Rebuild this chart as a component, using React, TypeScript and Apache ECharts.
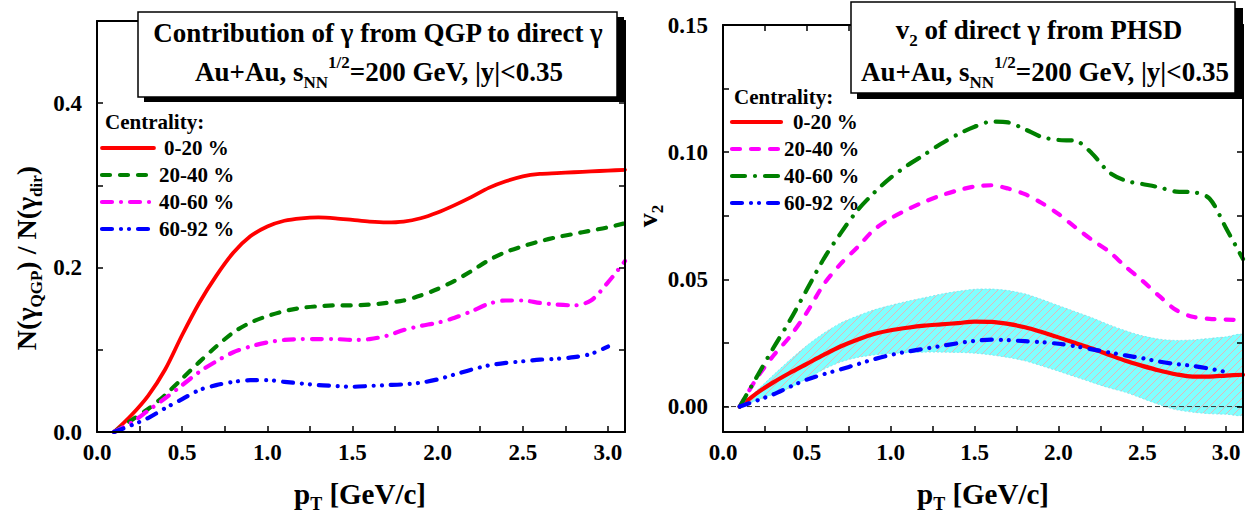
import React, { useEffect, useRef } from 'react';
import * as echarts from 'echarts';

// ---------- data ----------
const pT = [0.1, 0.2, 0.3, 0.4, 0.5, 0.6, 0.7, 0.8, 0.9, 1.0, 1.1, 1.2, 1.3, 1.4, 1.5, 1.6, 1.7, 1.8, 1.9, 2.0, 2.1, 2.2, 2.3, 2.4, 2.5, 2.6, 2.7, 2.8, 2.9, 3.0, 3.1];

const centralities = ['0-20 %', '20-40 %', '40-60 %', '60-92 %'];
const legendTitle = 'Centrality:';

// Left panel: N(gamma_QGP)/N(gamma_dir)
const ratio0020 = [0, 0.02, 0.044, 0.076, 0.118, 0.157, 0.19, 0.218, 0.238, 0.25, 0.257, 0.26, 0.261, 0.26, 0.258, 0.256, 0.255, 0.256, 0.26, 0.267, 0.276, 0.286, 0.297, 0.305, 0.311, 0.314, 0.315, 0.316, 0.317, 0.318, 0.319];
const ratio2040 = [0, 0.014, 0.028, 0.045, 0.065, 0.085, 0.104, 0.121, 0.133, 0.141, 0.147, 0.151, 0.153, 0.154, 0.154, 0.155, 0.157, 0.16, 0.166, 0.174, 0.184, 0.196, 0.209, 0.219, 0.226, 0.232, 0.237, 0.241, 0.245, 0.249, 0.254];
const ratio4060 = [0, 0.011, 0.026, 0.041, 0.057, 0.073, 0.086, 0.097, 0.104, 0.109, 0.112, 0.113, 0.113, 0.113, 0.112, 0.113, 0.117, 0.124, 0.129, 0.133, 0.139, 0.147, 0.156, 0.16, 0.16, 0.157, 0.155, 0.154, 0.16, 0.182, 0.208];
const ratio6092 = [0, 0.008, 0.017, 0.029, 0.04, 0.051, 0.057, 0.061, 0.063, 0.063, 0.061, 0.059, 0.057, 0.056, 0.055, 0.056, 0.057, 0.058, 0.06, 0.064, 0.07, 0.076, 0.081, 0.084, 0.086, 0.088, 0.089, 0.091, 0.095, 0.104, null];

// Right panel: v2 of direct photons
const v2_0020 = [0, 0.0052, 0.0095, 0.0133, 0.0168, 0.0203, 0.0236, 0.0263, 0.0285, 0.03, 0.031, 0.0318, 0.0323, 0.0328, 0.0334, 0.0333, 0.0325, 0.0312, 0.0293, 0.0272, 0.025, 0.0228, 0.0204, 0.018, 0.016, 0.0142, 0.0127, 0.0118, 0.0118, 0.0122, 0.0125];
const v2_2040 = [0, 0.011, 0.02, 0.0276, 0.037, 0.048, 0.056, 0.0625, 0.0695, 0.074, 0.0775, 0.0805, 0.083, 0.085, 0.0865, 0.087, 0.0857, 0.0835, 0.08, 0.0757, 0.0705, 0.0655, 0.061, 0.055, 0.0495, 0.0435, 0.038, 0.0353, 0.0345, 0.0342, 0.034];
const v2_4060 = [0, 0.0115, 0.023, 0.034, 0.046, 0.058, 0.068, 0.077, 0.084, 0.09, 0.0948, 0.099, 0.1033, 0.107, 0.11, 0.112, 0.1117, 0.109, 0.106, 0.1048, 0.1045, 0.0995, 0.0922, 0.0888, 0.0875, 0.0862, 0.0845, 0.0843, 0.0818, 0.07, 0.058];
const v2_6092 = [0, 0.0023, 0.0048, 0.0078, 0.0106, 0.0127, 0.0146, 0.0166, 0.0186, 0.0203, 0.0216, 0.0227, 0.0238, 0.0249, 0.0258, 0.0263, 0.0261, 0.0257, 0.0253, 0.0247, 0.0237, 0.0225, 0.0213, 0.0201, 0.019, 0.0177, 0.0167, 0.016, 0.0149, 0.0136, null];
const v2BandUpper = [0, 0.0062, 0.0124, 0.0184, 0.024, 0.0288, 0.0328, 0.0356, 0.038, 0.0398, 0.0414, 0.0428, 0.0442, 0.0453, 0.0461, 0.0462, 0.0456, 0.0443, 0.0421, 0.0397, 0.0373, 0.0349, 0.0322, 0.0298, 0.0278, 0.0265, 0.026, 0.0262, 0.0268, 0.0274, 0.028];
const v2BandLower = [0, 0.0024, 0.0048, 0.0073, 0.011, 0.0146, 0.0175, 0.0193, 0.0203, 0.0209, 0.0212, 0.0214, 0.0214, 0.0213, 0.021, 0.0203, 0.0193, 0.018, 0.016, 0.0139, 0.0117, 0.0095, 0.0074, 0.0056, 0.0032, 0.0008, -0.0012, -0.0022, -0.0028, -0.003, -0.003];
const zeroLine = [0, 3.1];

// ticks & labels
const xTickValues = [0, 0.25, 0.5, 0.75, 1, 1.25, 1.5, 1.75, 2, 2.25, 2.5, 2.75, 3];
const xLabelValues = [0, 0.5, 1, 1.5, 2, 2.5, 3];
const ratioTickValues = [0, 0.1, 0.2, 0.3, 0.4, 0.5];
const ratioLabelValues = [0, 0.2, 0.4];
const v2TickValues = [0, 0.025, 0.05, 0.075, 0.1, 0.125, 0.15];
const v2LabelValues = [0, 0.05, 0.1, 0.15];

// ---------- styles ----------
const FONT = 'Liberation Serif';
const RED = '#ff0000';
const GREEN = '#008000';
const MAGENTA = '#ff00ff';
const BLUE = '#0000ff';

const leftStyles = [
  { color: RED, type: 'solid' as any, width: 3.8 },
  { color: GREEN, type: [8, 10], width: 4.2 },
  { color: MAGENTA, type: [10, 9, 0.01, 9], width: 4.2 },
  { color: BLUE, type: [10, 9, 0.01, 8, 0.01, 9], width: 4.2 },
];
const rightStyles = [
  { color: RED, type: 'solid' as any, width: 4.2 },
  { color: MAGENTA, type: [8, 11], width: 4.2 },
  { color: GREEN, type: [13, 10, 0.01, 10], width: 4.2 },
  { color: BLUE, type: [10, 9, 0.01, 8, 0.01, 9], width: 4.2 },
];

function pairs(vals: (number | null)[]) {
  const out: number[][] = [];
  vals.forEach((v, i) => {
    if (v !== null && v !== undefined) out.push([pT[i], v]);
  });
  return out;
}

function makeXAxes(gridIndex: number) {
  const base: any = {
    type: 'value', gridIndex, min: 0, max: 3.1, interval: 0.25, z: 10,
    axisLine: { show: true, onZero: false, lineStyle: { color: '#000', width: 2 } },
    splitLine: { show: false },
    axisTick: { show: true, inside: true, length: 6, lineStyle: { color: '#000', width: 1.5 }, customValues: xTickValues },
  };
  return [
    {
      ...base, position: 'bottom',
      axisLabel: {
        customValues: xLabelValues,
        formatter: (v: number) => (Math.abs(v * 2 - Math.round(v * 2)) < 1e-6 ? v.toFixed(1) : ''),
        fontFamily: FONT, fontWeight: 'bold', fontSize: 23, color: '#000', margin: 9,
      },
    },
    { ...base, position: 'top', axisLabel: { show: false } },
  ];
}

function makeYAxes(gridIndex: number, min: number, max: number, ticks: number[], labels: number[], digits: number, interval?: number) {
  const base: any = {
    type: 'value', gridIndex, min, max, z: 10,
    axisLine: { show: true, onZero: false, lineStyle: { color: '#000', width: 2 } },
    splitLine: { show: false },
    axisTick: { show: true, inside: true, length: 6, lineStyle: { color: '#000', width: 1.5 }, customValues: ticks },
  };
  if (interval) base.interval = interval;
  return [
    {
      ...base, position: 'left',
      axisLabel: {
        customValues: labels,
        formatter: (v: number) => (labels.some((l) => Math.abs(l - v) < 1e-9) ? v.toFixed(digits) : ''),
        fontFamily: FONT, fontWeight: 'bold', fontSize: 23, color: '#000', margin: 15,
        padding: [0, 0, 12, 0],
      },
    },
    { ...base, position: 'right', axisLabel: { show: false } },
  ];
}

function lineSeries(name: string, data: number[][], st: any, xi: number, yi: number) {
  return {
    type: 'line', name, data, xAxisIndex: xi, yAxisIndex: yi,
    symbol: 'none', smooth: 0.3, silent: true, z: 5,
    lineStyle: { color: st.color, width: st.width, type: st.type, cap: 'round', join: 'round' },
  };
}

function richSet(main: number, sub: number, shift: number) {
  return {
    m: { fontFamily: FONT, fontWeight: 'bold', fontSize: main, fill: '#000' },
    sub: { fontFamily: FONT, fontWeight: 'bold', fontSize: sub, fill: '#000', padding: [shift, 0, 0, 0] },
    sup: { fontFamily: FONT, fontWeight: 'bold', fontSize: sub, fill: '#000', padding: [0, 0, shift, 0] },
  };
}

function legendGraphics(styles: any[], lx0: number, lx1: number, tx: number, firstShift: number, headX: number, headY: number, rows: number[]) {
  const els: any[] = [
    { type: 'text', z: 100, x: headX, y: headY, style: { text: legendTitle, fontFamily: FONT, fontWeight: 'bold', fontSize: 21, fill: '#000', align: 'left', verticalAlign: 'middle' } },
  ];
  centralities.forEach((c, i) => {
    const st = styles[i];
    els.push({
      type: 'line', z: 100,
      shape: { x1: lx0, y1: rows[i], x2: lx1, y2: rows[i] },
      style: { stroke: st.color, lineWidth: st.width, lineDash: Array.isArray(st.type) ? st.type : null, lineCap: 'round' },
    });
    els.push({
      type: 'text', z: 100, x: tx + (i === 0 ? firstShift : 0), y: rows[i],
      style: { text: c, fontFamily: FONT, fontWeight: 'bold', fontSize: 21, fill: '#000', align: 'left', verticalAlign: 'middle' },
    });
  });
  return els;
}

export default function App() {
  const ref = useRef<HTMLDivElement>(null);

  useEffect(() => {
    document.body.style.margin = '0';
    const el = ref.current!;
    const chart = echarts.init(el, null, { renderer: 'svg' });

    // hatch pattern for the band
    const cv = document.createElement('canvas');
    cv.width = 8; cv.height = 8;
    const ctx = cv.getContext('2d')!;
    ctx.fillStyle = '#80ffff';
    ctx.fillRect(0, 0, 8, 8);
    ctx.strokeStyle = '#e3b8b8';
    ctx.lineWidth = 1;
    ctx.beginPath();
    ctx.moveTo(0, 8); ctx.lineTo(8, 0);
    ctx.moveTo(-1, 1); ctx.lineTo(1, -1);
    ctx.moveTo(7, 9); ctx.lineTo(9, 7);
    ctx.stroke();
    const hatch: any = { image: cv.toDataURL(), repeat: 'repeat', imageWidth: 8, imageHeight: 8 };

    const leftData = [ratio0020, ratio2040, ratio4060, ratio6092];
    const rightData = [v2_0020, v2_2040, v2_4060, v2_6092];

    const series: any[] = [];
    leftData.forEach((d, i) => series.push(lineSeries('L ' + centralities[i], pairs(d), leftStyles[i], 0, 0)));

    // uncertainty band of the 0-20 % v2, drawn through the axis scales
    series.push({
      type: 'custom', name: 'band', xAxisIndex: 2, yAxisIndex: 2,
      data: [[pT[0], v2BandUpper[0]]], clip: true, silent: true, z: 2,
      renderItem: (params: any, api: any) => {
        const pts: number[][] = [];
        pT.forEach((x, i) => pts.push(api.coord([x, v2BandUpper[i]])));
        for (let i = pT.length - 1; i >= 0; i--) pts.push(api.coord([pT[i], v2BandLower[i]]));
        return {
          type: 'polygon',
          shape: { points: pts, smooth: 0.25 },
          style: { fill: hatch, stroke: '#70e6ee', lineWidth: 0.8, lineDash: [2, 2] },
        };
      },
    });
    series.push({
      type: 'line', name: 'zero', xAxisIndex: 2, yAxisIndex: 2,
      data: zeroLine.map((x) => [x, 0]), symbol: 'none', silent: true, z: 3,
      lineStyle: { color: '#333', width: 1, type: [5, 3] },
    });
    rightData.forEach((d, i) => series.push(lineSeries('R ' + centralities[i], pairs(d), rightStyles[i], 2, 2)));

    const graphic: any[] = [
      // left title box
      { type: 'rect', z: 99, shape: { x: 144, y: 17, width: 480, height: 85 }, style: { fill: '#000' } },
      { type: 'rect', z: 100, shape: { x: 138, y: 12, width: 479, height: 85 }, style: { fill: '#fff', stroke: '#000', lineWidth: 1.5 } },
      { type: 'text', z: 101, x: 378, y: 33, style: { text: 'Contribution of γ from QGP to direct γ', fontFamily: FONT, fontWeight: 'bold', fontSize: 27, fill: '#000', align: 'center', verticalAlign: 'middle' } },
      { type: 'text', z: 101, x: 379, y: 72, style: { text: '{m|Au+Au, s}{sub|NN}{sup|1/2}{m|=200 GeV, |y|<0.35}', rich: richSet(27, 17, 20), align: 'center', verticalAlign: 'middle' } },
      // right title box
      { type: 'rect', z: 99, shape: { x: 857, y: 8, width: 386, height: 91 }, style: { fill: '#000' } },
      { type: 'rect', z: 100, shape: { x: 851, y: 2, width: 384, height: 91 }, style: { fill: '#fff', stroke: '#000', lineWidth: 1.5 } },
      { type: 'text', z: 101, x: 1039, y: 30, style: { text: '{m|v}{sub|2}{m| of direct γ from PHSD}', rich: richSet(27, 17, 20), align: 'center', verticalAlign: 'middle' } },
      { type: 'text', z: 101, x: 1045, y: 72, style: { text: '{m|Au+Au, s}{sub|NN}{sup|1/2}{m|=200 GeV, |y|<0.35}', rich: richSet(27, 17, 20), align: 'center', verticalAlign: 'middle' } },
      // axis titles
      { type: 'text', z: 101, x: 360, y: 494, style: { text: '{m|p}{sub|T}{m| [GeV/c]}', rich: richSet(29, 18, 20), align: 'center', verticalAlign: 'middle' } },
      { type: 'text', z: 101, x: 983, y: 494, style: { text: '{m|p}{sub|T}{m| [GeV/c]}', rich: richSet(29, 18, 20), align: 'center', verticalAlign: 'middle' } },
      { type: 'text', z: 101, x: 26, y: 258, rotation: Math.PI / 2, style: { text: '{m|N(γ}{sub|QGP}{m|) / N(γ}{sub|dir}{m|)}', rich: richSet(28, 17, 20), align: 'center', verticalAlign: 'middle' } },
      { type: 'text', z: 101, x: 647, y: 216, rotation: Math.PI / 2, style: { text: '{m|v}{sub|2}', rich: richSet(28, 17, 20), align: 'center', verticalAlign: 'middle' } },
      ...legendGraphics(leftStyles, 102, 154, 159, 5, 105, 122, [148, 175, 202, 229]),
      ...legendGraphics(rightStyles, 732, 781, 784, 9, 734, 97, [122, 149, 176, 203]),
    ];

    const option: any = {
      animation: false,
      backgroundColor: '#fff',
      grid: [
        { left: 97, top: 21, width: 528, height: 411 },
        { left: 723, top: 25, width: 520, height: 407 },
      ],
      xAxis: [...makeXAxes(0), ...makeXAxes(1)],
      yAxis: [
        ...makeYAxes(0, 0, 0.5, ratioTickValues, ratioLabelValues, 1, 0.1),
        ...makeYAxes(1, -0.01, 0.15, v2TickValues, v2LabelValues, 2),
      ],
      series,
      graphic,
    };
    chart.setOption(option);
    return () => chart.dispose();
  }, []);

  return <div ref={ref} style={{ width: 1256, height: 518 }} />;
}
